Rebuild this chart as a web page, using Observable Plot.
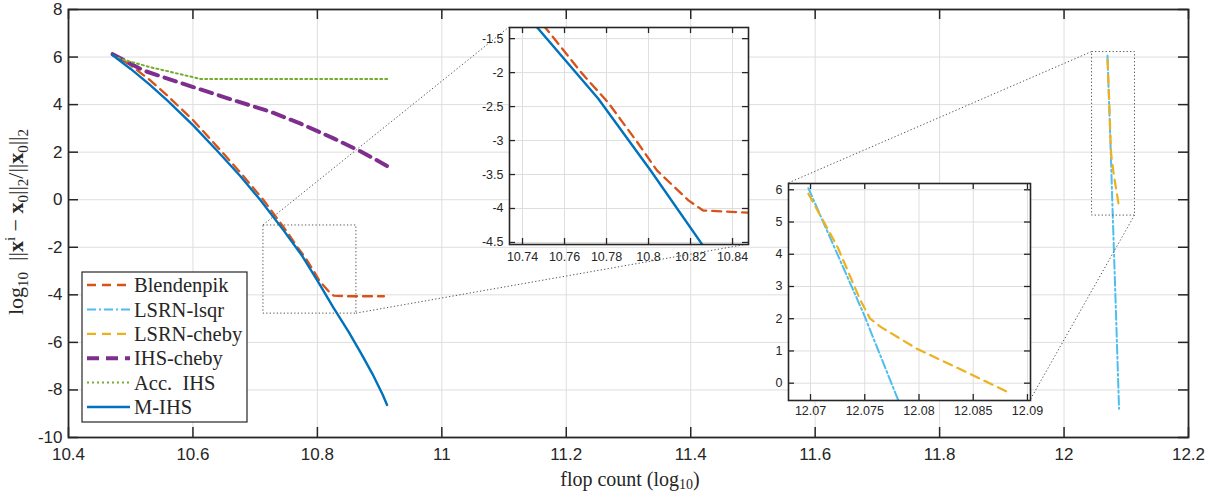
<!DOCTYPE html>
<html><head><meta charset="utf-8">
<script src="https://cdn.jsdelivr.net/npm/d3@7"></script>
<script src="https://cdn.jsdelivr.net/npm/@observablehq/plot@0.6"></script>
<style>
body{margin:0;background:#fff;}
#wrap{position:relative;width:1212px;height:491px;overflow:hidden;}
#wrap svg{position:absolute;}
</style></head><body><div id="wrap"></div>
<script>
// ---- series (legend order = drawing order) ----
const seriesNames  = ["Blendenpik","LSRN-lsqr","LSRN-cheby","IHS-cheby","Acc.  IHS","M-IHS"];
const seriesColors = ["#D95319","#4DBEEE","#EDB120","#7E2F8E","#77AC30","#0072BD"];

const blendenpikX = [10.470,10.500,10.530,10.560,10.600,10.628,10.676,10.713,10.752,10.768,10.781,10.795,10.804,10.819,10.826,10.847,10.907];
const blendenpikY = [6.15,5.65,5.05,4.35,3.35,2.55,1.15,0.00,-1.38,-2.00,-2.45,-3.04,-3.44,-3.88,-4.03,-4.06,-4.06];
const lsqrX  = [12.0698,12.0749,12.0781,12.0835,12.0884];
const lsqrY  = [6.05,2.15,-0.54,-4.80,-8.79];
const chebyX = [12.0698,12.0725,12.0746,12.0755,12.0765,12.0798,12.0847,12.0884];
const chebyY = [5.88,4.22,2.57,2.00,1.74,1.07,0.29,-0.31];
const ihsChebyX = [10.471,10.521,10.585,10.666,10.7245,10.773,10.826,10.869,10.912];
const ihsChebyY = [6.12,5.43,4.87,4.18,3.70,3.20,2.58,2.04,1.42];
const accIhsX = [10.472,10.484,10.532,10.601,10.612,10.917];
const accIhsY = [6.05,5.92,5.57,5.15,5.08,5.08];
const mihsX = [10.470,10.500,10.530,10.560,10.600,10.640,10.676,10.708,10.746,10.776,10.801,10.826,10.850,10.870,10.890,10.905,10.912];
const mihsY = [6.10,5.50,4.85,4.15,3.14,2.03,1.00,0.00,-1.30,-2.38,-3.44,-4.55,-5.55,-6.45,-7.40,-8.20,-8.63];

// ---- ticks ----
const mainXTicks = [10.4,10.6,10.8,11,11.2,11.4,11.6,11.8,12,12.2];
const mainYTicks = [-10,-8,-6,-4,-2,0,2,4,6,8];
const inset1XTicks = [10.74,10.76,10.78,10.8,10.82,10.84];
const inset1YTicks = [-4.5,-4,-3.5,-3,-2.5,-2,-1.5];
const inset2XTicks = [12.07,12.075,12.08,12.085,12.09];
const inset2YTicks = [0,1,2,3,4,5,6];

// ---- zoom regions (main data coords) and inset domains ----
const zoomX1 = [10.7133,12.045];
const zoomX2 = [10.8627,12.114];
const zoomY1 = [-4.79,-0.667];
const zoomY2 = [-1.083,6.21];
const inset1XDomain = [10.7338,10.8476], inset1YDomain = [-4.53,-1.336];
const inset2XDomain = [12.06797,12.09028], inset2YDomain = [-0.537,6.195];

// ---- styling ----
const seriesDash  = ["9,6","9,3,2,3","9,6","12,7","2,3",null];
const seriesWidth = [2.3,2,2.2,4,2,2.4];
const SANS = "'Liberation Sans', Arial, Helvetica, sans-serif";
const SERIF = "'Liberation Serif', 'Times New Roman', serif";
const INK = "#262626", GRID = "#dedede";
const W = 1212, H = 491;
const mL = 68, mR = 24, mT = 9, mB = 54;

const allX = [blendenpikX,lsqrX,chebyX,ihsChebyX,accIhsX,mihsX];
const allY = [blendenpikY,lsqrY,chebyY,ihsChebyY,accIhsY,mihsY];
const rows = allX.map((xs,i)=>xs.map((x,j)=>({x, y: allY[i][j]})));
const fmt = d => String(+(+d).toFixed(4));

function lineMarks(clip){
  return rows.map((r,i)=>Plot.line(r,{x:"x",y:"y",stroke:seriesColors[i],strokeWidth:seriesWidth[i],
    strokeDasharray:seriesDash[i]||undefined, clip}));
}
function boxTicks(xT,yT,innerW,innerH,len,sw){
  return [
    Plot.tickX(xT,{x:d=>d,insetTop:innerH-len,stroke:INK,strokeWidth:sw}),
    Plot.tickX(xT,{x:d=>d,insetBottom:innerH-len,stroke:INK,strokeWidth:sw}),
    Plot.tickY(yT,{y:d=>d,insetRight:innerW-len,stroke:INK,strokeWidth:sw}),
    Plot.tickY(yT,{y:d=>d,insetLeft:innerW-len,stroke:INK,strokeWidth:sw})
  ];
}

const zooms = zoomX1.map((v,i)=>({x1:v,x2:zoomX2[i],y1:zoomY1[i],y2:zoomY2[i]}));
const wrap = document.getElementById("wrap");

const main = Plot.plot({
  width:W, height:H, marginLeft:mL, marginRight:mR, marginTop:mT, marginBottom:mB,
  x:{domain:[10.4,12.2], label:null}, y:{domain:[-10,8], label:null},
  style:{background:"transparent", fontFamily:SANS, fontSize:"17px", color:INK},
  marks:[
    Plot.gridX(mainXTicks,{stroke:GRID,strokeOpacity:1}),
    Plot.gridY(mainYTicks,{stroke:GRID,strokeOpacity:1}),
    ...lineMarks(false),
    Plot.rect(zooms,{x1:"x1",x2:"x2",y1:"y1",y2:"y2",fill:"none",stroke:"#555",strokeWidth:1,strokeDasharray:"1.3,2.2"}),
    Plot.frame({stroke:INK,strokeWidth:1.8}),
    ...boxTicks(mainXTicks,mainYTicks,W-mL-mR,H-mT-mB,10,1.5),
    Plot.axisX(mainXTicks,{tickSize:0,tickPadding:10,tickFormat:fmt,label:null}),
    Plot.axisY(mainYTicks,{tickSize:0,tickPadding:6,tickFormat:fmt,label:null})
  ]
});
main.style.left="0px"; main.style.top="0px";
wrap.appendChild(main);

const sx = main.scale("x"), sy = main.scale("y");
const svg = d3.select(main);

// inset boxes (pixel placement)
const insetBoxes = [
  {left:509, top:27, right:748, bottom:244, xd:inset1XDomain, yd:inset1YDomain, xt:inset1XTicks, yt:inset1YTicks, padX:8, padY:6},
  {left:788, top:183, right:1030, bottom:400, xd:inset2XDomain, yd:inset2YDomain, xt:inset2XTicks, yt:inset2YTicks, padX:6, padY:6}
];

// connectors
const conn = svg.append("g").attr("stroke","#555").attr("stroke-width",1).attr("stroke-dasharray","1.3,2.2");
zooms.forEach((z,i)=>{
  const b = insetBoxes[i];
  conn.append("line").attr("x1",sx.apply(z.x1)).attr("y1",sy.apply(z.y2)).attr("x2",b.left).attr("y2",b.top);
  conn.append("line").attr("x1",sx.apply(z.x2)).attr("y1",sy.apply(z.y1)).attr("x2",b.right).attr("y2",b.bottom);
});

// legend
const lg = svg.append("g").attr("text-anchor","start");
const lgBox = {x:82, y:272, w:165, h:150};
lg.append("rect").attr("x",lgBox.x).attr("y",lgBox.y).attr("width",lgBox.w).attr("height",lgBox.h)
  .attr("fill","white").attr("stroke",INK).attr("stroke-width",1.2);
seriesNames.forEach((n,i)=>{
  const cy = 285 + i*24.4;
  const ln = lg.append("line").attr("x1",87).attr("x2",130).attr("y1",cy).attr("y2",cy)
    .attr("stroke",seriesColors[i]).attr("stroke-width",seriesWidth[i]);
  if (seriesDash[i]) ln.attr("stroke-dasharray",seriesDash[i]);
  lg.append("text").attr("x",134).attr("y",cy).attr("dy","0.35em").attr("text-anchor","start").attr("font-family",SERIF)
    .attr("font-size",20.5).attr("fill",INK).style("white-space","pre").text(n);
});

// axis titles
const xl = svg.append("text").attr("x",630).attr("y",486).attr("text-anchor","middle")
  .attr("font-family",SERIF).attr("font-size",20).attr("fill",INK);
xl.append("tspan").text("flop count (log");
xl.append("tspan").attr("font-size",14).attr("dy",3).text("10");
xl.append("tspan").attr("dy",-3).text(")");

const yl = svg.append("text").attr("transform","translate(23,222) rotate(-90)").attr("text-anchor","middle")
  .attr("font-family",SERIF).attr("font-size",22).attr("fill",INK).style("white-space","pre");
function ts(t,opt={}){const s=yl.append("tspan").text(t); if(opt.size)s.attr("font-size",opt.size); if(opt.dy)s.attr("dy",opt.dy); if(opt.bold)s.attr("font-weight","bold"); return s;}
ts("log"); ts("10",{size:15,dy:5}); ts("  ||",{dy:-5}); ts("x",{bold:1}); ts("i",{size:15,dy:-8}); ts(" − ",{dy:8});
ts("x",{bold:1}); ts("0",{size:15,dy:5}); ts("||",{dy:-5}); ts("2",{size:15,dy:5}); ts("/||",{dy:-5});
ts("x",{bold:1}); ts("0",{size:15,dy:5}); ts("||",{dy:-5}); ts("2",{size:15,dy:5});

// insets
insetBoxes.forEach(b=>{
  const iL=44, iR=22, iT=6, iB=28;
  const w=b.right-b.left, h=b.bottom-b.top;
  const p = Plot.plot({
    width:w+iL+iR, height:h+iT+iB, marginLeft:iL, marginRight:iR, marginTop:iT, marginBottom:iB,
    x:{domain:b.xd,label:null}, y:{domain:b.yd,label:null},
    style:{background:"transparent", fontFamily:SANS, fontSize:"12.5px", color:INK},
    marks:[
      Plot.frame({fill:"white",stroke:"none"}),
      Plot.gridX(b.xt,{stroke:GRID,strokeOpacity:1}),
      Plot.gridY(b.yt,{stroke:GRID,strokeOpacity:1}),
      ...lineMarks(true),
      Plot.frame({stroke:INK,strokeWidth:1.6}),
      ...boxTicks(b.xt,b.yt,w,h,6,1.3),
      Plot.axisX(b.xt,{tickSize:0,tickPadding:b.padX,tickFormat:fmt,label:null}),
      Plot.axisY(b.yt,{tickSize:0,tickPadding:b.padY,tickFormat:fmt,label:null})
    ]
  });
  p.style.left=(b.left-iL)+"px"; p.style.top=(b.top-iT)+"px";
  wrap.appendChild(p);
});
</script></body></html>
